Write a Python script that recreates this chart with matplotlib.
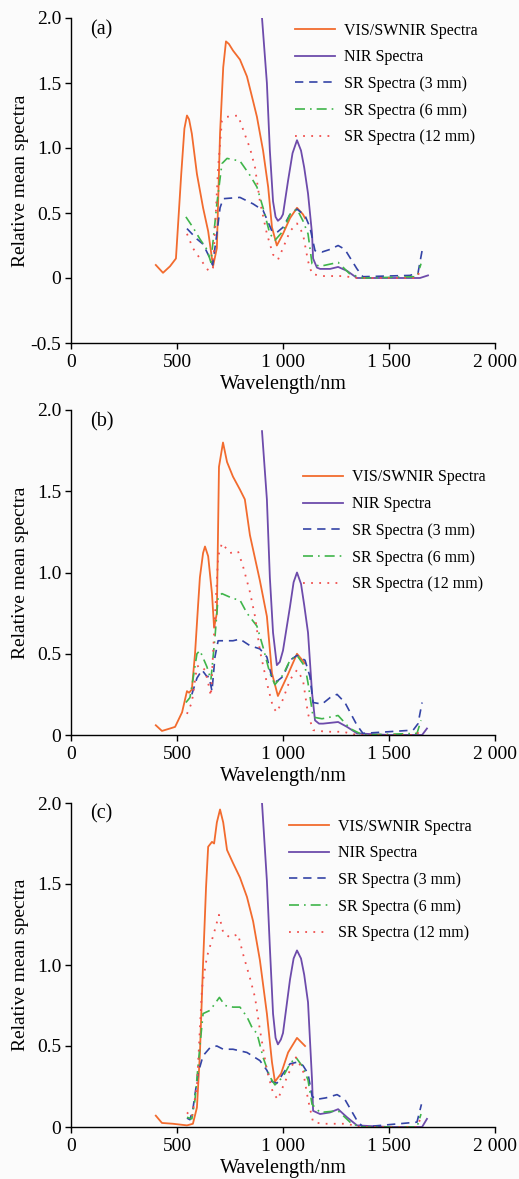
import matplotlib
matplotlib.use("Agg")
import matplotlib.pyplot as plt
from matplotlib.ticker import FixedLocator, FixedFormatter

plt.rcParams['font.family'] = ['Liberation Serif', 'DejaVu Serif']

# ---------------- data ----------------
series_labels = ["VIS/SWNIR Spectra", "NIR Spectra", "SR Spectra (3 mm)",
                 "SR Spectra (6 mm)", "SR Spectra (12 mm)"]

# Panel (a)
a_vis_x = [400, 434, 467, 495, 520, 535, 547, 557, 570, 594, 623, 647, 670, 688, 703, 718, 731, 745, 764, 797, 830, 859, 877, 906, 930, 948, 971, 1000, 1033, 1066, 1094, 1104]
a_vis_y = [0.10, 0.04, 0.09, 0.15, 0.80, 1.15, 1.25, 1.22, 1.11, 0.80, 0.54, 0.36, 0.09, 0.23, 1.11, 1.62, 1.82, 1.80, 1.75, 1.68, 1.55, 1.36, 1.24, 0.98, 0.70, 0.39, 0.25, 0.34, 0.46, 0.54, 0.49, 0.46]
a_nir_x = [893, 901, 924, 938, 953, 965, 976, 990, 1000, 1024, 1045, 1066, 1085, 1100, 1118, 1137, 1142, 1160, 1175, 1222, 1260, 1302, 1349, 1500, 1646, 1684]
a_nir_y = [2.20, 2.00, 1.50, 0.98, 0.59, 0.47, 0.44, 0.46, 0.49, 0.75, 0.96, 1.06, 0.98, 0.85, 0.65, 0.34, 0.15, 0.08, 0.07, 0.07, 0.085, 0.055, 0.0, 0.0, 0.0, 0.02]
a_sr3_x = [547, 594, 623, 656, 668, 688, 703, 718, 797, 859, 906, 948, 971, 1000, 1033, 1066, 1104, 1127, 1151, 1184, 1222, 1260, 1292, 1349, 1377, 1599, 1637, 1656]
a_sr3_y = [0.38, 0.30, 0.26, 0.15, 0.10, 0.34, 0.54, 0.61, 0.62, 0.57, 0.52, 0.36, 0.35, 0.39, 0.49, 0.53, 0.48, 0.39, 0.21, 0.20, 0.22, 0.25, 0.22, 0.07, 0.01, 0.02, 0.04, 0.21]
a_sr6_x = [542, 575, 608, 641, 660, 688, 712, 736, 797, 844, 877, 906, 938, 962, 1000, 1033, 1066, 1094, 1118, 1137, 1175, 1260, 1316, 1377, 1632, 1651]
a_sr6_y = [0.47, 0.39, 0.30, 0.22, 0.12, 0.57, 0.88, 0.92, 0.90, 0.79, 0.70, 0.54, 0.34, 0.29, 0.36, 0.49, 0.53, 0.44, 0.34, 0.11, 0.09, 0.12, 0.03, 0.0, 0.01, 0.11]
a_sr12_x = [547, 575, 608, 651, 670, 694, 712, 736, 788, 830, 844, 868, 891, 924, 953, 976, 1000, 1033, 1066, 1094, 1118, 1137, 1189, 1283, 1349, 1632, 1651]
a_sr12_y = [0.34, 0.23, 0.15, 0.05, 0.08, 0.85, 1.21, 1.24, 1.25, 1.06, 1.00, 0.85, 0.59, 0.34, 0.18, 0.14, 0.23, 0.36, 0.42, 0.34, 0.13, 0.03, 0.015, 0.015, 0.0, 0.0, 0.08]

# Panel (b)
b_vis_x = [400, 429, 467, 491, 524, 547, 557, 570, 585, 599, 608, 623, 632, 647, 665, 675, 688, 698, 717, 736, 764, 797, 820, 844, 891, 924, 948, 976, 1019, 1066, 1104]
b_vis_y = [0.06, 0.025, 0.04, 0.05, 0.14, 0.27, 0.26, 0.28, 0.50, 0.79, 0.97, 1.12, 1.16, 1.10, 0.87, 0.66, 0.75, 1.65, 1.80, 1.68, 1.59, 1.51, 1.45, 1.23, 0.95, 0.73, 0.38, 0.24, 0.36, 0.50, 0.44]
b_nir_x = [901, 924, 938, 953, 971, 985, 1000, 1033, 1050, 1066, 1085, 1100, 1118, 1137, 1151, 1170, 1189, 1260, 1302, 1349, 1500, 1656, 1679]
b_nir_y = [1.87, 1.45, 0.97, 0.63, 0.43, 0.45, 0.52, 0.79, 0.94, 1.00, 0.93, 0.80, 0.63, 0.26, 0.09, 0.07, 0.07, 0.08, 0.05, 0.01, 0.0, 0.0, 0.04]
b_sr3_x = [570, 594, 618, 641, 651, 665, 679, 694, 764, 797, 844, 891, 924, 948, 971, 1000, 1033, 1066, 1104, 1127, 1142, 1184, 1222, 1255, 1292, 1349, 1377, 1614, 1637, 1656]
b_sr3_y = [0.25, 0.35, 0.40, 0.36, 0.36, 0.27, 0.48, 0.58, 0.58, 0.59, 0.55, 0.53, 0.48, 0.35, 0.33, 0.36, 0.46, 0.49, 0.46, 0.36, 0.20, 0.19, 0.23, 0.25, 0.20, 0.06, 0.01, 0.03, 0.07, 0.20]
b_sr6_x = [542, 561, 575, 594, 608, 641, 660, 679, 694, 712, 764, 797, 830, 877, 906, 938, 962, 1000, 1033, 1066, 1104, 1118, 1142, 1184, 1260, 1316, 1377, 1632, 1651]
b_sr6_y = [0.20, 0.23, 0.34, 0.50, 0.52, 0.42, 0.34, 0.60, 0.85, 0.87, 0.84, 0.83, 0.75, 0.67, 0.54, 0.38, 0.31, 0.37, 0.46, 0.49, 0.42, 0.32, 0.11, 0.10, 0.12, 0.04, 0.0, 0.01, 0.09]
b_sr12_x = [547, 570, 594, 608, 632, 647, 660, 679, 694, 712, 750, 788, 811, 844, 868, 891, 924, 953, 971, 1000, 1033, 1066, 1094, 1118, 1142, 1203, 1283, 1349, 1632, 1651]
b_sr12_y = [0.13, 0.20, 0.42, 0.43, 0.40, 0.32, 0.24, 0.73, 1.10, 1.18, 1.12, 1.13, 1.04, 0.88, 0.73, 0.52, 0.32, 0.17, 0.14, 0.22, 0.34, 0.40, 0.34, 0.13, 0.03, 0.02, 0.02, 0.0, 0.0, 0.05]

# Panel (c)
c_vis_x = [400, 429, 481, 547, 575, 594, 608, 623, 637, 647, 665, 675, 688, 703, 718, 736, 764, 797, 830, 859, 891, 924, 948, 962, 991, 1024, 1066, 1104]
c_vis_y = [0.07, 0.025, 0.02, 0.01, 0.02, 0.12, 0.45, 1.01, 1.48, 1.73, 1.76, 1.75, 1.88, 1.96, 1.88, 1.71, 1.63, 1.54, 1.42, 1.27, 1.03, 0.70, 0.40, 0.28, 0.33, 0.46, 0.55, 0.50]
c_nir_x = [893, 901, 924, 938, 953, 965, 976, 990, 1000, 1033, 1050, 1066, 1085, 1100, 1118, 1137, 1142, 1175, 1222, 1260, 1302, 1349, 1500, 1656, 1679]
c_nir_y = [2.20, 2.00, 1.52, 1.11, 0.70, 0.55, 0.51, 0.54, 0.58, 0.91, 1.04, 1.09, 1.04, 0.94, 0.77, 0.29, 0.10, 0.08, 0.09, 0.11, 0.06, 0.01, 0.0, 0.0, 0.05]
c_sr3_x = [547, 561, 575, 599, 623, 656, 688, 718, 764, 830, 891, 924, 948, 971, 1000, 1033, 1066, 1094, 1118, 1137, 1156, 1203, 1255, 1292, 1349, 1377, 1632, 1653]
c_sr3_y = [0.055, 0.045, 0.11, 0.33, 0.44, 0.49, 0.50, 0.48, 0.48, 0.46, 0.41, 0.35, 0.28, 0.27, 0.33, 0.39, 0.40, 0.38, 0.33, 0.19, 0.17, 0.18, 0.20, 0.17, 0.04, 0.0, 0.03, 0.14]
c_sr6_x = [547, 570, 585, 608, 623, 656, 700, 726, 764, 797, 830, 859, 877, 906, 938, 962, 1000, 1033, 1061, 1094, 1118, 1137, 1175, 1260, 1316, 1361, 1632, 1651]
c_sr6_y = [0.06, 0.05, 0.17, 0.50, 0.70, 0.72, 0.80, 0.75, 0.74, 0.74, 0.68, 0.60, 0.58, 0.43, 0.31, 0.26, 0.31, 0.39, 0.43, 0.37, 0.29, 0.14, 0.09, 0.10, 0.03, 0.0, 0.0, 0.08]
c_sr12_x = [547, 570, 594, 618, 641, 675, 698, 718, 750, 788, 811, 844, 868, 891, 924, 953, 976, 1000, 1033, 1061, 1094, 1118, 1142, 1189, 1302, 1361, 1632, 1651]
c_sr12_y = [0.09, 0.06, 0.25, 0.86, 1.05, 1.20, 1.31, 1.20, 1.17, 1.19, 1.07, 0.92, 0.80, 0.60, 0.35, 0.21, 0.17, 0.25, 0.35, 0.43, 0.35, 0.17, 0.03, 0.02, 0.02, 0.0, 0.0, 0.06]

panel_tags = ["(a)", "(b)", "(c)"]
panel_ylims = [(-0.5, 2.0), (0.0, 2.0), (0.0, 2.0)]
x_ticks = [0, 500, 1000, 1500, 2000]
x_ticklabels = ["0", "500", "1 000", "1 500", "2 000"]
y_ticks_a = [-0.5, 0, 0.5, 1.0, 1.5, 2.0]
y_ticklabels_a = ["-0.5", "0", "0.5", "1.0", "1.5", "2.0"]
y_ticks_bc = [0, 0.5, 1.0, 1.5, 2.0]
y_ticklabels_bc = ["0", "0.5", "1.0", "1.5", "2.0"]

panels = [
    [(a_vis_x, a_vis_y), (a_nir_x, a_nir_y), (a_sr3_x, a_sr3_y), (a_sr6_x, a_sr6_y), (a_sr12_x, a_sr12_y)],
    [(b_vis_x, b_vis_y), (b_nir_x, b_nir_y), (b_sr3_x, b_sr3_y), (b_sr6_x, b_sr6_y), (b_sr12_x, b_sr12_y)],
    [(c_vis_x, c_vis_y), (c_nir_x, c_nir_y), (c_sr3_x, c_sr3_y), (c_sr6_x, c_sr6_y), (c_sr12_x, c_sr12_y)],
]

# ---------------- style ----------------
colors = ["#f26b2e", "#6d4bab", "#3444a6", "#3fb54a", "#f0504e"]
styles = ["-", "-", (0, (5, 3.5)), (0, (6, 3, 1, 3)), (0, (1, 3.5))]
widths = [1.3, 1.3, 1.2, 1.2, 1.3]

W, H = 519, 1179
fig = plt.figure(figsize=(W / 100, H / 100), dpi=100, facecolor="#fbfbfb")

ax_px = [(18, 343), (410, 735), (803, 1127)]   # top, bottom in pixels
left_px, right_px = 71, 495
legend_anchor = [(0.528, 0.986), (0.547, 0.817), (0.514, 0.952)]

for i, (top, bot) in enumerate(ax_px):
    ax = fig.add_axes([left_px / W, 1 - bot / H, (right_px - left_px) / W, (bot - top) / H])
    ax.set_facecolor("#fbfbfb")
    for j, (xs, ys) in enumerate(panels[i]):
        ax.plot(xs, ys, color=colors[j], linestyle=styles[j], linewidth=widths[j],
                label=series_labels[j])
    ax.set_xlim(0, 2000)
    ax.set_ylim(*panel_ylims[i])
    ax.xaxis.set_major_locator(FixedLocator(x_ticks))
    ax.xaxis.set_major_formatter(FixedFormatter(x_ticklabels))
    if i == 0:
        ax.yaxis.set_major_locator(FixedLocator(y_ticks_a))
        ax.yaxis.set_major_formatter(FixedFormatter(y_ticklabels_a))
    else:
        ax.yaxis.set_major_locator(FixedLocator(y_ticks_bc))
        ax.yaxis.set_major_formatter(FixedFormatter(y_ticklabels_bc))
    for s in ["top", "right"]:
        ax.spines[s].set_visible(False)
    for s in ["left", "bottom"]:
        ax.spines[s].set_linewidth(1.0)
    ax.tick_params(direction="out", length=4, width=1.0, labelsize=14, pad=3)
    ax.tick_params(axis="x", pad=4)
    ax.set_xlabel("Wavelength/nm", fontsize=14.5, labelpad=2.5)
    ax.set_ylabel("Relative mean spectra", fontsize=14)
    ax.yaxis.set_label_coords(-0.1, 0.5)
    ax.text(0.045, 0.965, panel_tags[i], transform=ax.transAxes, fontsize=14.5,
            va="center", ha="left")
    ax.legend(loc="upper left", bbox_to_anchor=legend_anchor[i], frameon=False,
              fontsize=11.5, handlelength=2.5, handletextpad=0.55, labelspacing=0.67,
              borderpad=0, borderaxespad=0)

fig.savefig("out.png", dpi=100, facecolor=fig.get_facecolor())
